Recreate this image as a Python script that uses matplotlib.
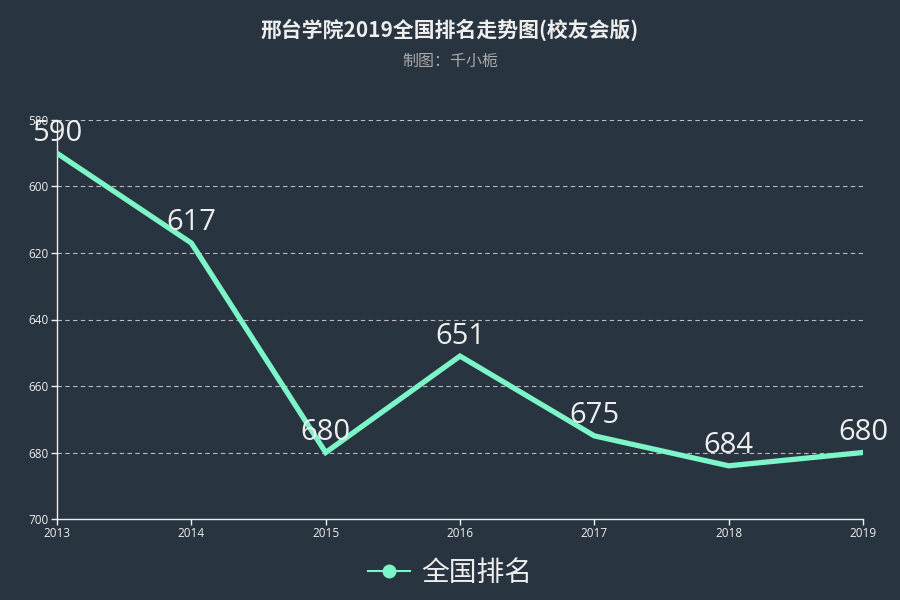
import matplotlib
matplotlib.use('Agg')
import matplotlib.pyplot as plt
from matplotlib.lines import Line2D

plt.rcParams['font.family'] = ['Open Sans', 'Noto Sans CJK SC', 'DejaVu Sans']

years = ['2013', '2014', '2015', '2016', '2017', '2018', '2019']
ranks = [590, 617, 680, 651, 675, 684, 680]

bg = '#283440'
line_color = '#7cf5c9'
fg = '#eeeeee'

fig = plt.figure(figsize=(9, 6), dpi=100, facecolor=bg)
ax = fig.add_axes([57 / 900, 1 - 519 / 600, 806 / 900, 399 / 600])
ax.set_facecolor(bg)

x = list(range(len(years)))
ax.plot(x, ranks, color=line_color, linewidth=3.8, solid_joinstyle='miter', zorder=3)
for xi, v in zip(x, ranks):
    ax.annotate(str(v), (xi, v), xytext=(0, 4), textcoords='offset points',
                ha='center', va='bottom', fontsize=21, color=fg, zorder=4)

ax.set_xlim(0, len(years) - 1)
ax.set_ylim(700, 580)
ax.set_xticks(x)
ax.set_xticklabels(years)
ax.set_yticks([580, 600, 620, 640, 660, 680, 700])
ax.tick_params(colors=fg, labelsize=8.5, length=4, width=1)
ax.tick_params(axis='x', pad=2)
ax.tick_params(axis='y', pad=2)
for v in [580, 600, 620, 640, 660, 680]:
    ax.axhline(v, color='#bbbbbb', linestyle=(0, (4, 3)), linewidth=0.8, zorder=1)
for s in ['top', 'right']:
    ax.spines[s].set_visible(False)
for s in ['left', 'bottom']:
    ax.spines[s].set_color(fg)
    ax.spines[s].set_linewidth(1)

fig.text(0.5, 1 - 30 / 600, '邢台学院2019全国排名走势图(校友会版)', ha='center', va='center',
         fontsize=15, fontweight='bold', color=fg, family=['Noto Sans CJK SC', 'DejaVu Sans'])
fig.text(0.5, 1 - 61 / 600, '制图：千小栀', ha='center', va='center', fontsize=11.5,
         color='#aaaaaa', family=['Noto Sans CJK SC', 'DejaVu Sans'])

handle = Line2D([], [], color=line_color, linewidth=1.5, marker='o', markersize=9)
leg = fig.legend([handle], ['全国排名'], loc='center', bbox_to_anchor=(0.5, 1 - 573 / 600),
                 frameon=False, handlelength=1.5, handletextpad=0.4,
                 prop={'family': ['Noto Sans CJK SC', 'DejaVu Sans'], 'size': 20})
for t in leg.get_texts():
    t.set_color(fg)

fig.savefig('out.png', dpi=100, facecolor=bg)
